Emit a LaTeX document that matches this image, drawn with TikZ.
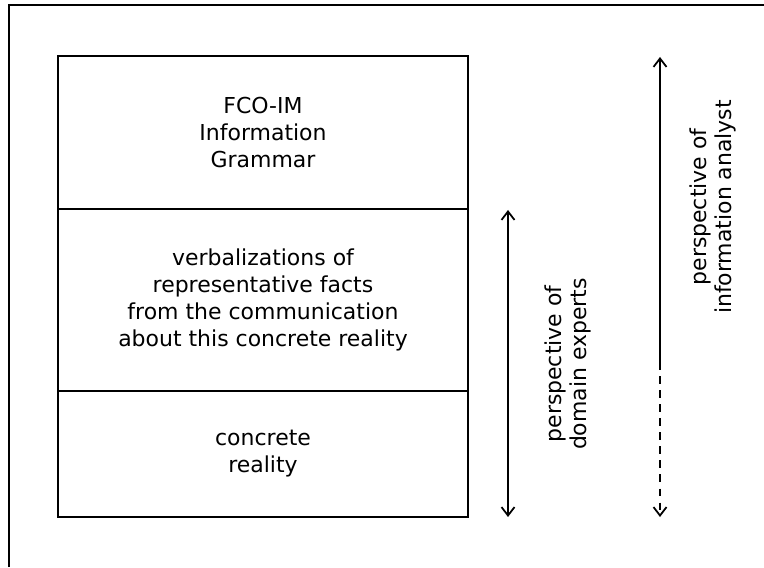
\documentclass[tikz,border=0pt]{standalone}
\usepackage{fontspec}
\setmainfont{DejaVu Sans}
\usepackage{tikz}
\usetikzlibrary{arrows.meta,positioning}
\tikzset{
  frtip/.tip={Straight Barb[length=1.7mm,width=2.6mm,line width=1pt]},
  fr/line/.style={line width=0.7pt},
  fr/layer/.style={draw, line width=1pt, outer sep=0pt, minimum width=8.2cm, align=center,
    font=\fontsize{12.5}{15.4}\selectfont},
  fr/arr/.style={line width=0.8pt, -{frtip}},
  fr/twoway/.style={line width=0.8pt, {frtip}-{frtip}},
  fr/label/.style={rotate=90, align=center, inner sep=0pt, font=\fontsize{12.5}{14}\selectfont}
}

\begin{document}
\begin{tikzpicture}[
  dashpart/.style={dash pattern=on 4.5pt off 3.5pt}
]
\useasboundingbox (0,0) rectangle (15.28,11.34);
\coordinate (frtl) at (0.18,11.24);
\coordinate (frtr) at (15.28,11.24);
\coordinate (frbl) at (0.18,0);
\draw[fr/line] (frbl) -- (frtl) -- (frtr);

\node[fr/layer, minimum height=3.06cm, anchor=north west] (grammar) at (1.16,10.22)
  {FCO-IM\\Information\\Grammar};
\node[fr/layer, minimum height=3.64cm, below=0pt of grammar] (verbal)
  {verbalizations of\\representative facts\\from the communication\\about this concrete reality};
\node[fr/layer, minimum height=2.52cm, below=0pt of verbal] (reality)
  {concrete\\reality};

\coordinate (dtop) at (10.16,7.14);
\coordinate (dbot) at (10.16,1.0);
\draw[fr/twoway] (dtop) -- (dbot);
\node[fr/label] (domain) at (11.36,4.06) {perspective of\\domain experts};

\coordinate (atop) at (13.2,10.2);
\coordinate (amid) at (13.2,4.1);
\coordinate (abot) at (13.2,1.0);
\draw[line width=0.8pt, {frtip}-] (atop) -- (amid);
\draw[fr/arr, dashpart] (amid) -- (abot);
\node[fr/label] (analyst) at (14.26,7.2) {perspective of\\information analyst};
\end{tikzpicture}
\end{document}
